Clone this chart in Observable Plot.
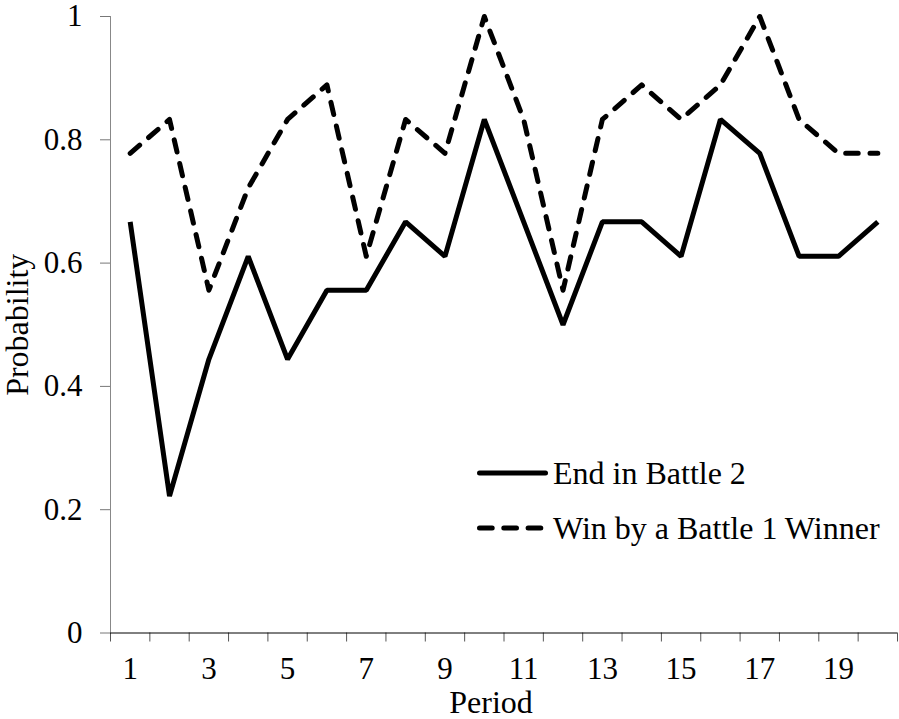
<!DOCTYPE html>
<html>
<head>
<meta charset="utf-8">
<script src="https://cdn.jsdelivr.net/npm/d3@7"></script>
<script src="https://cdn.jsdelivr.net/npm/@observablehq/plot@0.6"></script>
<style>
  html, body { margin: 0; padding: 0; background: #fff; }
  #wrap { position: relative; width: 899px; height: 719px; font-family: "Liberation Serif", "Times New Roman", serif; }
  #legend { position: absolute; left: 0; top: 0; width: 899px; height: 719px; pointer-events: none; }
</style>
</head>
<body>
<div id="wrap"></div>
<script>
// ---- data ----
const periods = [1,2,3,4,5,6,7,8,9,10,11,12,13,14,15,16,17,18,19,20];
const endInBattle2 = [0.667,0.222,0.444,0.611,0.444,0.556,0.556,0.667,0.611,0.833,0.667,0.5,0.667,0.667,0.611,0.833,0.778,0.611,0.611,0.667];
const winByBattle1Winner = [0.778,0.833,0.556,0.722,0.833,0.889,0.611,0.833,0.778,1.0,0.833,0.556,0.833,0.889,0.833,0.889,1.0,0.833,0.778,0.778];
const seriesNames = ["End in Battle 2", "Win by a Battle 1 Winner"];
const xTickLabels = [1,3,5,7,9,11,13,15,17,19];
const yTicks = [0,0.2,0.4,0.6,0.8,1];
const xTitle = "Period";
const yTitle = "Probability";

const rows = [];
periods.forEach((p, i) => {
  rows.push({period: p, value: endInBattle2[i], series: seriesNames[0]});
  rows.push({period: p, value: winByBattle1Winner[i], series: seriesNames[1]});
});
const boundaries = d3.range(periods[0] - 0.5, periods[periods.length - 1] + 1, 1);

const font = "'Liberation Serif', 'Times New Roman', serif";

const chart = Plot.plot({
  width: 899,
  height: 719,
  marginLeft: 110,
  marginRight: 2,
  marginTop: 16,
  marginBottom: 86.5,
  style: {fontFamily: font, fontSize: "31px", color: "#000", background: "#fff", overflow: "visible"},
  x: {domain: [boundaries[0], boundaries[boundaries.length - 1]]},
  y: {domain: [0, 1]},
  marks: [
    Plot.axisY({ticks: yTicks, tickFormat: d => String(+d.toFixed(1)), tickSize: 10, tickPadding: 18, stroke: "#777", label: null, fontSize: 31}),
    Plot.axisX({ticks: boundaries, tickFormat: () => "", tickSize: 9, stroke: "#555", label: null}),
    Plot.axisX({ticks: xTickLabels, tickSize: 0, tickPadding: 24, label: null, fontSize: 31}),
    Plot.ruleX([boundaries[0]], {stroke: "#888", strokeWidth: 1}),
    Plot.ruleY([0], {stroke: "#000", strokeWidth: 1}),
    Plot.line(rows.filter(d => d.series === seriesNames[0]), {x: "period", y: "value", stroke: "#000", strokeWidth: 5, strokeLinejoin: "miter", strokeLinecap: "butt"}),
    Plot.line(rows.filter(d => d.series === seriesNames[1]), {x: "period", y: "value", stroke: "#000", strokeWidth: 5, strokeDasharray: "12.5,11.8", strokeLinecap: "round", strokeLinejoin: "round"}),
    Plot.text([xTitle], {frameAnchor: "bottom", dx: -13, dy: 80, fontSize: 32, fill: "#000"}),
    Plot.text([yTitle], {frameAnchor: "left", textAnchor: "middle", lineAnchor: "middle", rotate: -90, dx: -93, fontSize: 32, fill: "#000"})
  ]
});

const wrap = document.getElementById("wrap");
wrap.appendChild(chart);

// legend overlay
const ns = "http://www.w3.org/2000/svg";
const leg = document.createElementNS(ns, "svg");
leg.setAttribute("id", "legend");
leg.setAttribute("width", 899);
leg.setAttribute("height", 719);
const legendItems = [
  {name: seriesNames[0], y: 473, dash: null},
  {name: seriesNames[1], y: 528, dash: "12.7,11.6"}
];
legendItems.forEach(it => {
  const l = document.createElementNS(ns, "line");
  l.setAttribute("x1", 479.5); l.setAttribute("x2", it.dash ? 541 : 545.5);
  l.setAttribute("y1", it.y); l.setAttribute("y2", it.y);
  l.setAttribute("stroke", "#000"); l.setAttribute("stroke-width", 5);
  l.setAttribute("stroke-linecap", "round");
  if (it.dash) l.setAttribute("stroke-dasharray", it.dash);
  leg.appendChild(l);
  const t = document.createElementNS(ns, "text");
  t.setAttribute("x", 553); t.setAttribute("y", it.y + 11);
  t.setAttribute("font-family", font); t.setAttribute("font-size", 32);
  t.setAttribute("fill", "#000");
  t.textContent = it.name;
  leg.appendChild(t);
});
wrap.appendChild(leg);
</script>
</body>
</html>
